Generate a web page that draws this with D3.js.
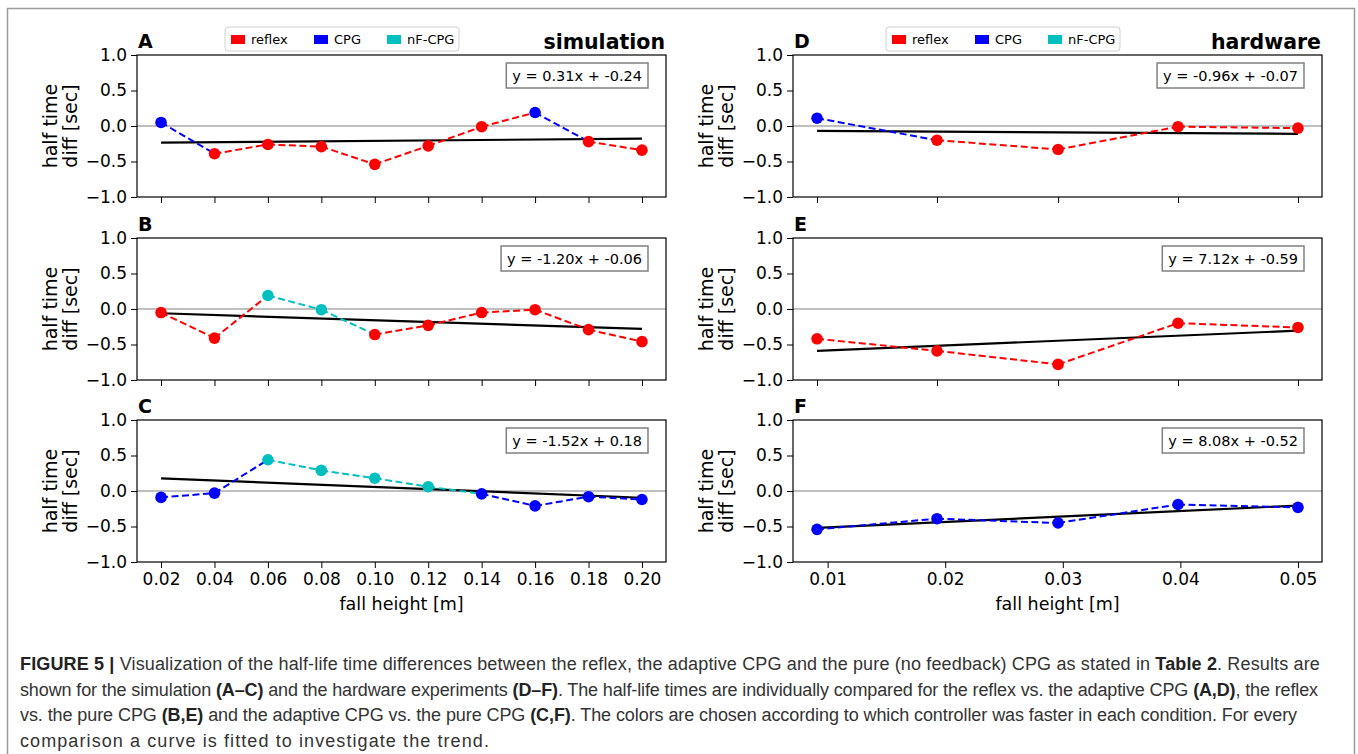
<!DOCTYPE html>
<html>
<head>
<meta charset="utf-8">
<script src="https://cdn.jsdelivr.net/npm/d3@7"></script>
<style>
	body { margin: 0; background: white; }
	svg { display: block; }
</style>
</head>
<body>
<div id="figura"></div>
<script>
// fall heights
const simX = [0.02, 0.04, 0.06, 0.08, 0.10, 0.12, 0.14, 0.16, 0.18, 0.20];
const hwX = [0.0091, 0.0193, 0.0296, 0.0398, 0.0500];
const simTicks = [0.02, 0.04, 0.06, 0.08, 0.10, 0.12, 0.14, 0.16, 0.18, 0.20];
const hwTicks = [0.01, 0.02, 0.03, 0.04, 0.05];
const yTicks = [-1.0, -0.5, 0.0, 0.5, 1.0];

const controllers = ['reflex', 'CPG', 'nF-CPG'];

// half time differences + which controller was faster
const valA = [0.05, -0.39, -0.26, -0.29, -0.54, -0.28, -0.01, 0.19, -0.22, -0.34];
const winA = ['CPG', 'reflex', 'reflex', 'reflex', 'reflex', 'reflex', 'reflex', 'CPG', 'reflex', 'reflex'];
const valB = [-0.05, -0.41, 0.19, -0.01, -0.36, -0.23, -0.05, -0.01, -0.29, -0.46];
const winB = ['reflex', 'reflex', 'nF-CPG', 'nF-CPG', 'reflex', 'reflex', 'reflex', 'reflex', 'reflex', 'reflex'];
const valC = [-0.09, -0.03, 0.44, 0.29, 0.18, 0.06, -0.04, -0.21, -0.08, -0.12];
const winC = ['CPG', 'CPG', 'nF-CPG', 'nF-CPG', 'nF-CPG', 'nF-CPG', 'CPG', 'CPG', 'CPG', 'CPG'];
const valD = [0.11, -0.20, -0.33, -0.01, -0.03];
const winD = ['CPG', 'reflex', 'reflex', 'reflex', 'reflex'];
const valE = [-0.42, -0.59, -0.78, -0.20, -0.26];
const winE = ['reflex', 'reflex', 'reflex', 'reflex', 'reflex'];
const valF = [-0.54, -0.39, -0.45, -0.19, -0.23];
const winF = ['CPG', 'CPG', 'CPG', 'CPG', 'CPG'];

// fitted line, value at first and last fall height
const fitA = [-0.235, -0.178];
const fitB = [-0.06, -0.28];
const fitC = [0.178, -0.095];
const fitD = [-0.07, -0.11];
const fitE = [-0.59, -0.305];
const fitF = [-0.52, -0.205];

const eqs = ['y = 0.31x + -0.24', 'y = -1.20x + -0.06', 'y = -1.52x + 0.18',
	'y = -0.96x + -0.07', 'y = 7.12x + -0.59', 'y = 8.08x + -0.52'];

const titles = ['simulation', 'hardware'];

const caption = [
	[['FIGURE 5', 1], [' | ', 1], ['Visualization of the half-life time differences between the reflex, the adaptive CPG and the pure (no feedback) CPG as stated in ', 0], ['Table 2', 1], ['. Results are', 0]],
	[['shown for the simulation ', 0], ['(A\u2013C)', 1], [' and the hardware experiments ', 0], ['(D\u2013F)', 1], ['. The half-life times are individually compared for the reflex vs. the adaptive CPG ', 0], ['(A,D)', 1], [', the reflex', 0]],
	[['vs. the pure CPG ', 0], ['(B,E)', 1], [' and the adaptive CPG vs. the pure CPG ', 0], ['(C,F)', 1], ['. The colors are chosen according to which controller was faster in each condition. For every', 0]],
	[['comparison a curve is fitted to investigate the trend.', 0]]
];
// right end of each caption line
const captionEnds = [1320, 1318, 1297, 490];

var Amplada = 1358, Alcada = 754;
var colLeft = [137, 793], colWidth = 529;
var rowTop = [55, 238, 420], rowHeight = 142;

var color = d3.scaleOrdinal()
	.domain(controllers)
	.range(['#ff0000', '#0000ff', '#00bfbf']);

var panels = [
	{lletra: 'A', col: 0, row: 0, x: simX, v: valA, w: winA, fit: fitA, eq: eqs[0], ticks: simTicks},
	{lletra: 'B', col: 0, row: 1, x: simX, v: valB, w: winB, fit: fitB, eq: eqs[1], ticks: simTicks},
	{lletra: 'C', col: 0, row: 2, x: simX, v: valC, w: winC, fit: fitC, eq: eqs[2], ticks: simTicks},
	{lletra: 'D', col: 1, row: 0, x: hwX, v: valD, w: winD, fit: fitD, eq: eqs[3], ticks: hwX},
	{lletra: 'E', col: 1, row: 1, x: hwX, v: valE, w: winE, fit: fitE, eq: eqs[4], ticks: hwX},
	{lletra: 'F', col: 1, row: 2, x: hwX, v: valF, w: winF, fit: fitF, eq: eqs[5], ticks: hwTicks}
];

var svg = d3.select('#figura')
	.append('svg')
		.attr('width', Amplada)
		.attr('height', Alcada)
		.style('font-family', '"DejaVu Sans", sans-serif');

svg.append('rect')
	.attr('x', 7.5)
	.attr('y', 8.5)
	.attr('width', 1347)
	.attr('height', 780)
	.attr('fill', 'white')
	.attr('stroke', '#9a9a9a')
	.attr('stroke-width', 1.5);

function dibuixaPanel(p) {
	const left = colLeft[p.col], top = rowTop[p.row];
	const ext = d3.extent(p.x);
	const marg = (ext[1] - ext[0]) * 0.05;
	const x = d3.scaleLinear().domain([ext[0] - marg, ext[1] + marg]).range([0, colWidth]);
	const y = d3.scaleLinear().domain([-1, 1]).range([rowHeight, 0]);
	const g = svg.append('g').attr('transform', `translate(${left},${top})`);

	// zero line
	g.append('line')
		.attr('x1', 0).attr('x2', colWidth)
		.attr('y1', y(0)).attr('y2', y(0))
		.attr('stroke', '#808080')
		.attr('stroke-width', 1.2);

	// fit
	g.append('path')
		.attr('d', d3.line()([[x(ext[0]), y(p.fit[0])], [x(ext[1]), y(p.fit[1])]]))
		.attr('stroke', 'black')
		.attr('stroke-width', 2.2)
		.attr('fill', 'none');

	// dashed segments coloured by the starting point
	const segs = d3.range(p.v.length - 1);
	g.append('g')
		.selectAll('path')
		.data(segs)
		.enter()
		.append('path')
			.attr('d', i => d3.line()([[x(p.x[i]), y(p.v[i])], [x(p.x[i + 1]), y(p.v[i + 1])]]))
			.attr('stroke', i => color(p.w[i]))
			.attr('stroke-width', 2)
			.attr('stroke-dasharray', '7,3.5')
			.attr('fill', 'none');

	g.append('g')
		.selectAll('circle')
		.data(p.v)
		.enter()
		.append('circle')
			.attr('cx', (d, i) => x(p.x[i]))
			.attr('cy', d => y(d))
			.attr('r', 5.8)
			.attr('fill', (d, i) => color(p.w[i]));

	// axes
	const baix = p.row === 2;
	const ax = d3.axisBottom(x)
		.tickValues(p.ticks)
		.tickSizeInner(6).tickSizeOuter(0)
		.tickPadding(5)
		.tickFormat(baix ? d3.format('.2f') : '');
	const gx = g.append('g')
		.attr('transform', `translate(0,${rowHeight})`)
		.call(ax);
	const ay = d3.axisLeft(y)
		.tickValues(yTicks)
		.tickSizeInner(6).tickSizeOuter(0)
		.tickPadding(4)
		.tickFormat(d => d3.format('.1f')(d).replace('-', '\u2212'));
	const gy = g.append('g').call(ay);
	[gx, gy].forEach(a => {
		a.select('.domain').remove();
		a.selectAll('text').attr('font-size', 17).attr('fill', 'black').attr('font-family', '"DejaVu Sans", sans-serif');
		a.selectAll('line').attr('stroke', 'black').attr('stroke-width', 1);
	});

	g.append('rect')
		.attr('width', colWidth)
		.attr('height', rowHeight)
		.attr('fill', 'none')
		.attr('stroke', 'black')
		.attr('stroke-width', 1.2);

	// y label, two lines
	const lab = g.append('text')
		.attr('transform', `translate(-80,${rowHeight / 2}) rotate(-90)`)
		.attr('text-anchor', 'middle')
		.attr('font-size', 19);
	lab.append('tspan').attr('x', 0).attr('dy', 0).text('half time');
	lab.append('tspan').attr('x', 0).attr('dy', 20).text('diff [sec]');

	if (baix) {
		g.append('text')
			.attr('x', colWidth / 2)
			.attr('y', rowHeight + 48)
			.attr('text-anchor', 'middle')
			.attr('font-size', 17.5)
			.text('fall height [m]');
	}

	// panel letter
	g.append('text')
		.attr('x', 1)
		.attr('y', -7)
		.attr('font-size', 19)
		.attr('font-weight', 'bold')
		.text(p.lletra);

	// equation box
	const eq = g.append('g').attr('transform', `translate(${colWidth - 18},8)`);
	const t = eq.append('text')
		.attr('x', -6)
		.attr('y', 18)
		.attr('text-anchor', 'end')
		.attr('font-size', 14.5)
		.text(p.eq);
	const bb = t.node().getBBox();
	eq.insert('rect', 'text')
		.attr('x', bb.x - 6)
		.attr('y', 0)
		.attr('width', bb.width + 12)
		.attr('height', 25)
		.attr('fill', 'white')
		.attr('stroke', '#808080')
		.attr('stroke-width', 1.5);
}

panels.forEach(dibuixaPanel);

// titles and legends on top row
[0, 1].forEach(c => {
	svg.append('text')
		.attr('x', colLeft[c] + colWidth - 1)
		.attr('y', rowTop[0] - 6)
		.attr('text-anchor', 'end')
		.attr('font-size', 20.5)
		.attr('font-weight', 'bold')
		.text(titles[c]);

	const lx = colLeft[c] + (c === 0 ? 88 : 93);
	const lg = svg.append('g').attr('transform', `translate(${lx},27)`);
	lg.append('rect')
		.attr('width', 234)
		.attr('height', 24)
		.attr('rx', 3)
		.attr('fill', 'white')
		.attr('stroke', '#d0d0d0')
		.attr('stroke-width', 1);
	const pos = [6, 89, 162];
	controllers.forEach((k, i) => {
		lg.append('rect')
			.attr('x', pos[i])
			.attr('y', 8)
			.attr('width', 14)
			.attr('height', 9)
			.attr('fill', color(k));
		lg.append('text')
			.attr('x', pos[i] + 20)
			.attr('y', 17)
			.attr('font-size', 13)
			.text(k);
	});
});

// caption, letter spacing tuned so each line ends where it does in the figure
var cap = svg.append('g')
	.style('font-family', '"Liberation Sans", Arial, sans-serif')
	.attr('font-size', 18)
	.attr('fill', '#333');
caption.forEach((linia, i) => {
	const t = cap.append('text')
		.attr('x', 20)
		.attr('y', 670 + i * 25.7);
	linia.forEach(([s, b]) => {
		t.append('tspan')
			.attr('font-weight', b ? 'bold' : 'normal')
			.attr('fill', b ? '#222' : '#333')
			.text(s);
	});
	const w = t.node().getComputedTextLength();
	const n = linia.map(d => d[0]).join('').length;
	t.attr('letter-spacing', (captionEnds[i] - 20 - w) / n);
});
</script>
</body>
</html>
